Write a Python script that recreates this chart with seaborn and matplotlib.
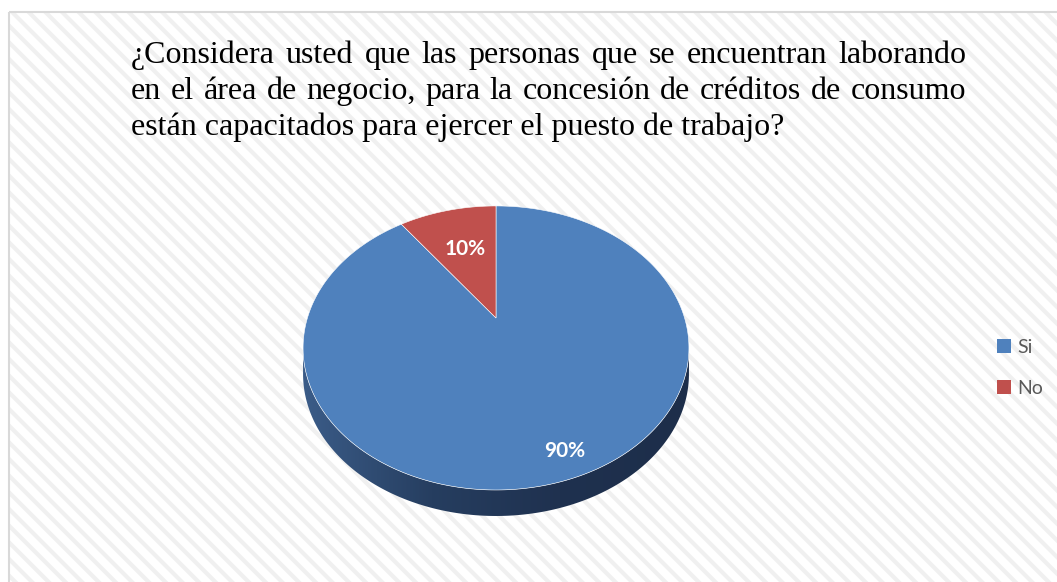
import matplotlib
matplotlib.use("Agg")
import matplotlib.pyplot as plt
import numpy as np
import seaborn as sns
from matplotlib.patches import Rectangle, Polygon
from matplotlib.colors import LinearSegmentedColormap

sns.set_theme(style="white")
plt.rcParams["hatch.linewidth"] = 3.0

# data
categories = ["Si", "No"]
values = [90, 10]
colors = ["#4f81bd", "#c0504d"]
title_lines = [
    "¿Considera usted que las personas que se encuentran laborando",
    "en el área de negocio, para la concesión de créditos de consumo",
    "están capacitados para ejercer el puesto de trabajo?",
]

W, H = 1057, 582
fig = plt.figure(figsize=(W / 100, H / 100), dpi=100)
fig.patch.set_facecolor("white")
ax = fig.add_axes([0, 0, 1, 1])

# tilted pie: perspective projection of the unit pie
cx, cy, a, b, k = 496, 318, 188.6, 135.7, 0.211
depth = 26


def proj(x, y):
    w = 1 + k * y
    return cx + a * x / w, cy - b * y / w


wedges, texts, autotexts = ax.pie(values, colors=colors, startangle=90, counterclock=False,
                                  autopct="%d%%", pctdistance=0.6)

ax.set_aspect("auto")
ax.axis("off")

# chart area with diagonal stripes
ax.add_patch(Rectangle((9, 12), W, H, facecolor="white", edgecolor="#f0f0f0",
                       hatch="\\\\", lw=0, zorder=0))
ax.add_patch(Rectangle((9, 12), W, H, fill=False, edgecolor="#d9d9d9", lw=1.5, zorder=1))

# side of the pie (3D depth), horizontal gradient
t = np.linspace(np.pi + np.arcsin(k), 2 * np.pi - np.arcsin(k), 300)
px, py = proj(np.cos(t), np.sin(t))
side = np.vstack([np.column_stack([px, py]), np.column_stack([px[::-1], py[::-1] + depth])])
side_poly = Polygon(side, closed=True, facecolor="none", edgecolor="none", zorder=2)
ax.add_patch(side_poly)
cmap = LinearSegmentedColormap.from_list("side", ["#3b5c88", "#263e60", "#1f314f", "#1d2e4a"])
grad = np.linspace(0, 1, 256).reshape(1, -1)
im = ax.imshow(grad, cmap=cmap, extent=(px.min(), px.max(), py.max() + depth, py.min()),
               aspect="auto", zorder=2)
im.set_clip_path(side_poly)

# top of the pie, sampled from each wedge's angles
for wdg in wedges:
    th = np.radians(np.linspace(wdg.theta1, wdg.theta2, 400))
    xs = np.concatenate([[wdg.center[0]], wdg.r * np.cos(th) + wdg.center[0]])
    ys = np.concatenate([[wdg.center[1]], wdg.r * np.sin(th) + wdg.center[1]])
    X, Y = proj(xs, ys)
    ax.add_patch(Polygon(np.column_stack([X, Y]), closed=True, facecolor=wdg.get_facecolor(),
                         edgecolor="white", lw=0.4, zorder=3))
    wdg.remove()

label_scale = [1.42, 1.0]
for txt, s in zip(autotexts, label_scale):
    x0, y0 = txt.get_position()
    X, Y = proj(x0 * s, y0 * s)
    if s > 1:
        X += 9
    txt.set_position((X, Y))
    txt.set_color("white")
    txt.set_fontsize(15)
    txt.set_fontweight("bold")
    txt.set_fontfamily("Lato")
    txt.set_zorder(5)

ax.set_xlim(0, W)
ax.set_ylim(H, 0)

# title, justified lines
fig.canvas.draw()
renderer = fig.canvas.get_renderer()
left, right = 131, 966
baselines = [63, 99, 135]
fs = 23
for i, (line, yb) in enumerate(zip(title_lines, baselines)):
    if i == len(title_lines) - 1:
        ax.text(left, yb, line, fontsize=fs, family="Liberation Serif", color="black",
                va="baseline", ha="left", zorder=6)
        continue
    words = line.split(" ")
    objs = [ax.text(0, yb, w_, fontsize=fs, family="Liberation Serif", color="black",
                    va="baseline", ha="left", zorder=6) for w_ in words]
    widths = [o.get_window_extent(renderer).width for o in objs]
    gap = (right - left - sum(widths)) / (len(words) - 1)
    x = left
    for o, wd in zip(objs, widths):
        o.set_x(x)
        x += wd + gap

# legend
handles = [Rectangle((0, 0), 1, 1, facecolor=c, edgecolor="none") for c in colors]
leg = fig.legend(handles, categories, loc="center left", bbox_to_anchor=(979 / W, 1 - 368 / H),
                 frameon=False, handlelength=0.75, handleheight=0.75, handletextpad=0.3,
                 labelspacing=1.25, prop={"family": "Lato", "size": 14})
for t_ in leg.get_texts():
    t_.set_color("#595959")

fig.savefig("out.png", dpi=100)
